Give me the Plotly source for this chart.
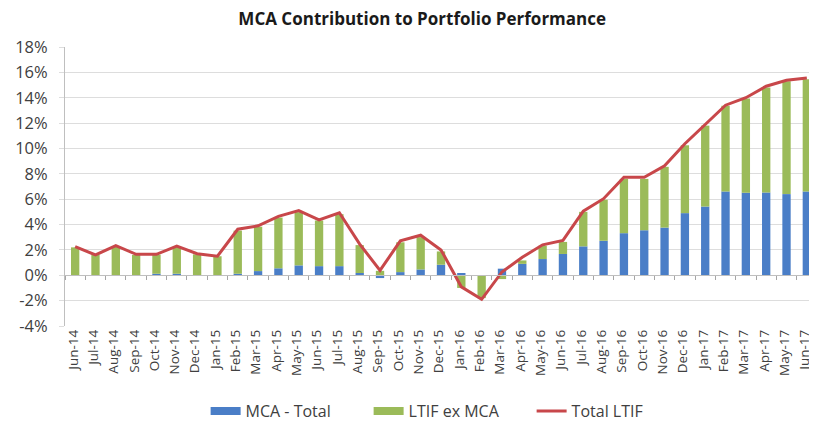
import plotly.graph_objects as go

months = ["Jun-14", "Jul-14", "Aug-14", "Sep-14", "Oct-14", "Nov-14", "Dec-14", "Jan-15",
          "Feb-15", "Mar-15", "Apr-15", "May-15", "Jun-15", "Jul-15", "Aug-15", "Sep-15",
          "Oct-15", "Nov-15", "Dec-15", "Jan-16", "Feb-16", "Mar-16", "Apr-16", "May-16",
          "Jun-16", "Jul-16", "Aug-16", "Sep-16", "Oct-16", "Nov-16", "Dec-16", "Jan-17",
          "Feb-17", "Mar-17", "Apr-17", "May-17", "Jun-17"]

mca_total = [0.0, 0.0, 0.0, 0.0, 0.12, 0.12, 0.0, -0.05,
             0.12, 0.33, 0.55, 0.78, 0.72, 0.72, 0.18, -0.22,
             0.25, 0.46, 0.83, 0.18, -0.05, 0.52, 0.9, 1.28,
             1.68, 2.28, 2.72, 3.32, 3.55, 3.76, 4.9, 5.42,
             6.61, 6.51, 6.53, 6.4, 6.61]

ltif_ex_mca = [2.2, 1.6, 2.25, 1.6, 1.5, 2.1, 1.65, 1.5,
               3.4, 3.5, 4.0, 4.2, 3.6, 4.1, 2.2, 0.35,
               2.35, 2.55, 1.05, -1.0, -1.75, -0.3, 0.27, 1.05,
               0.95, 2.72, 3.24, 4.28, 4.05, 4.79, 5.35, 6.38,
               6.75, 7.42, 8.27, 8.9, 8.84]

total_ltif = [2.26, 1.6, 2.33, 1.65, 1.65, 2.3, 1.7, 1.5,
              3.63, 3.9, 4.65, 5.1, 4.36, 4.93, 2.46, 0.38,
              2.72, 3.16, 2.0, -0.91, -1.9, 0.26, 1.42, 2.4,
              2.75, 5.06, 6.04, 7.73, 7.73, 8.64, 10.37, 11.93,
              13.41, 14.0, 14.91, 15.38, 15.56]

y_ticks = [-4, -2, 0, 2, 4, 6, 8, 10, 12, 14, 16, 18]
y_tick_labels = [f"{v}%" for v in y_ticks]

BLUE = "#4A7EC7"
GREEN = "#9BBB59"
RED = "#C8474A"
FONT = "Open Sans"

fig = go.Figure()
fig.add_trace(go.Bar(x=months, y=mca_total, name="MCA - Total", marker_color=BLUE,
                     marker_line_width=0, legendgroup="mca", showlegend=False))
fig.add_trace(go.Bar(x=months, y=ltif_ex_mca, name="LTIF ex MCA", marker_color=GREEN,
                     marker_line_width=0, legendgroup="ltif", showlegend=False))
fig.add_trace(go.Scatter(x=months, y=total_ltif, name="Total LTIF", mode="lines",
                         line=dict(color=RED, width=3), showlegend=False))
# legend keys in the reference's wide-rectangle style (legend only, no data)
fig.add_trace(go.Scatter(x=[None], y=[None], name="MCA - Total", mode="lines",
                         line=dict(color=BLUE, width=8), legendgroup="mca"))
fig.add_trace(go.Scatter(x=[None], y=[None], name="LTIF ex MCA", mode="lines",
                         line=dict(color=GREEN, width=8), legendgroup="ltif"))
fig.add_trace(go.Scatter(x=[None], y=[None], name="Total LTIF", mode="lines",
                         line=dict(color=RED, width=3)))
# invisible trace to carry the tick axis on the zero line
fig.add_trace(go.Scatter(x=months, y=[0] * len(months), xaxis="x2", mode="none",
                         showlegend=False, hoverinfo="skip"))

ymin, ymax = y_ticks[0], y_ticks[-1]

# page body has an 8px margin: figure is drawn 8px in from the top-left
fig.update_layout(
    width=809, height=420,
    margin=dict(l=57, r=0, t=39, b=99),
    paper_bgcolor="white", plot_bgcolor="white",
    barmode="relative", bargap=0.59,
    title=dict(text="<b>MCA Contribution to Portfolio Performance</b>",
               x=0.512, xanchor="center", y=0.988, yanchor="top",
               font=dict(family=FONT, size=17, color="#1a1a1a")),
    font=dict(family=FONT, color="#404040"),
    xaxis=dict(type="category", categoryorder="array", categoryarray=months,
               tickangle=-90, tickfont=dict(size=13.5, color="#404040"),
               ticklabelshift=-2,
               showgrid=False, showline=False, ticks="", range=[-0.5, len(months) - 0.5],
               automargin=False),
    xaxis2=dict(type="category", categoryorder="array", categoryarray=months,
                overlaying="x", matches="x", anchor="free",
                position=(0 - ymin) / (ymax - ymin),
                showticklabels=False, ticks="outside", ticklen=4, tickcolor="#A6A6A6",
                tickson="boundaries", showline=True, linecolor="#BFBFBF", showgrid=False),
    yaxis=dict(range=[ymin, ymax], tickmode="array", tickvals=y_ticks, ticktext=y_tick_labels,
               tickfont=dict(size=16.5, color="#404040"), ticklabelstandoff=8,
               showgrid=True, gridcolor="#DDDDDD", gridwidth=1,
               zeroline=False, showline=True, linecolor="#BFBFBF",
               ticks="outside", ticklen=5, tickcolor="#DDDDDD", automargin=False),
    legend=dict(orientation="h", x=0.187, xanchor="left", y=-0.305, yanchor="middle",
                font=dict(size=16, color="#404040"), traceorder="normal",
                itemwidth=30, entrywidth=118, entrywidthmode="pixels"),
    showlegend=True,
)

fig.write_html("out.html")
